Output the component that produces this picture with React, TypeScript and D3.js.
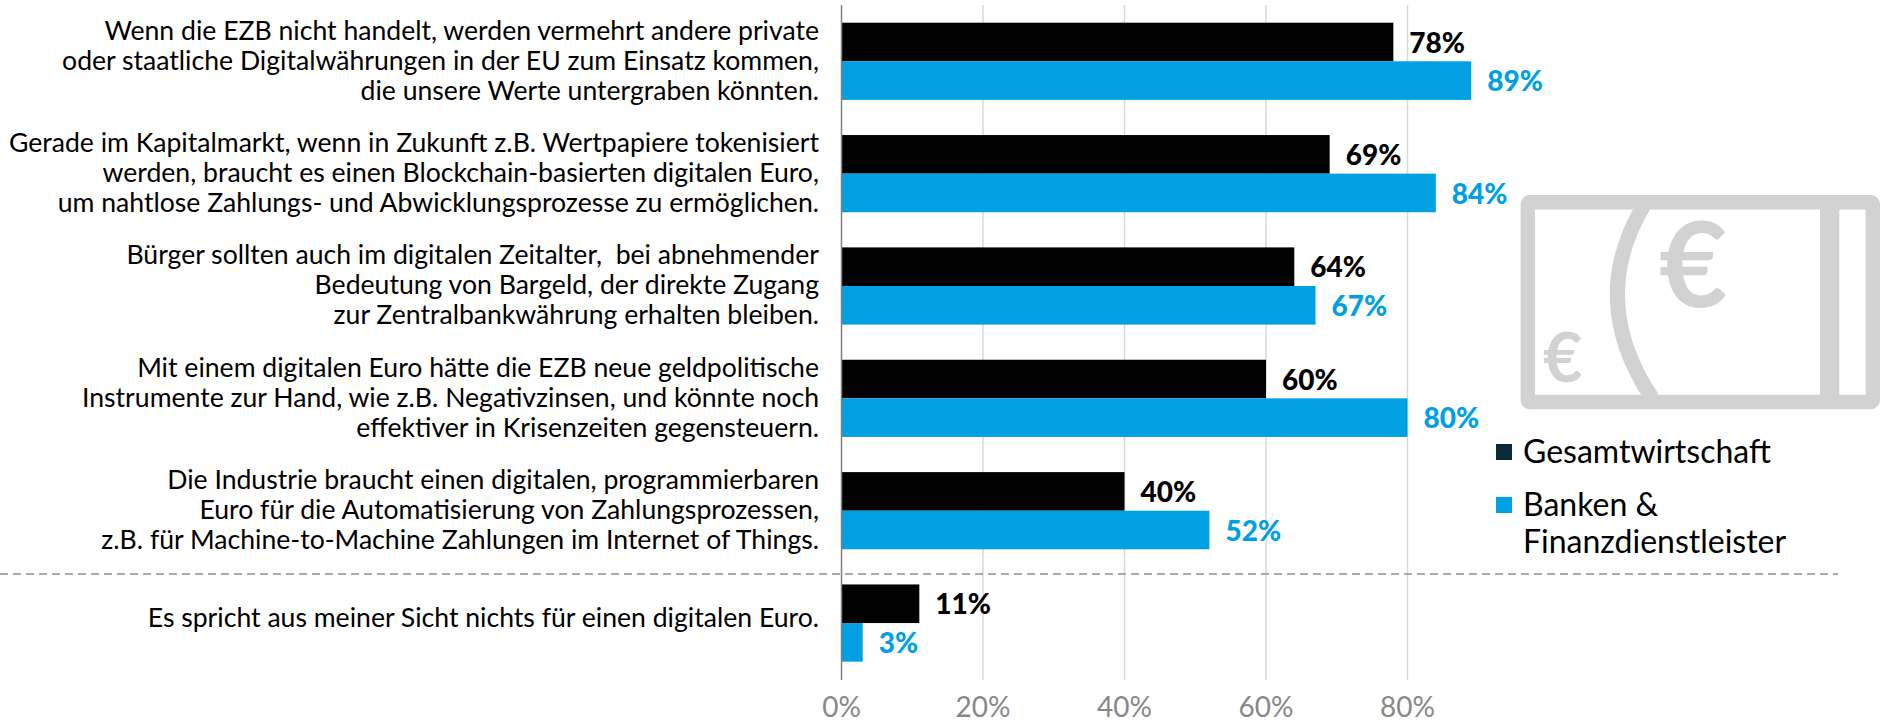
import React from "react";
import * as d3 from "d3";

const statementLines: string[][] = [
  ["Wenn die EZB nicht handelt, werden vermehrt andere private", "oder staatliche Digitalwährungen in der EU zum Einsatz kommen,", "die unsere Werte untergraben könnten."],
  ["Gerade im Kapitalmarkt, wenn in Zukunft z.B. Wertpapiere tokenisiert", "werden, braucht es einen Blockchain-basierten digitalen Euro,", "um nahtlose Zahlungs- und Abwicklungsprozesse zu ermöglichen."],
  ["Bürger sollten auch im digitalen Zeitalter,  bei abnehmender", "Bedeutung von Bargeld, der direkte Zugang", "zur Zentralbankwährung erhalten bleiben."],
  ["Mit einem digitalen Euro hätte die EZB neue geldpolitische", "Instrumente zur Hand, wie z.B. Negativzinsen, und könnte noch", "effektiver in Krisenzeiten gegensteuern."],
  ["Die Industrie braucht einen digitalen, programmierbaren", "Euro für die Automatisierung von Zahlungsprozessen,", "z.B. für Machine-to-Machine Zahlungen im Internet of Things."],
  ["Es spricht aus meiner Sicht nichts für einen digitalen Euro."],
];
const gesamt = [78, 69, 64, 60, 40, 11];
const banken = [89, 84, 67, 80, 52, 3];
const ticks = [0, 20, 40, 60, 80];
const legendLabels = ["Gesamtwirtschaft", "Banken &", "Finanzdienstleister"];

const BLUE = "#00a0e3";
const ICON = "#d2d2d2";
const FONT = "Lato, sans-serif";
const x = d3.scaleLinear().domain([0, 80]).range([841.5, 1407.5]);

export default function App() {
  const groupY = (i: number) => 22.7 + i * 112.35;
  const barH = 38.6;
  return (
    <svg width={1883} height={723} style={{ position: "absolute", left: 0, top: 0, background: "#fff" }} fontFamily={FONT}>
      {ticks.slice(1).map((t) => (
        <line key={t} x1={x(t)} x2={x(t)} y1={5} y2={680} stroke="#d9d9d9" strokeWidth={1.5} />
      ))}
      <g>
        <rect x={1527.8} y={202.2} width={345} height={199.8} fill="none" stroke={ICON} strokeWidth={14.4} rx={2} strokeLinejoin="round" />
        <rect x={1820} y={205} width={19.3} height={192} fill={ICON} />
        <path d="M1644 205 Q1587 300 1652 398" fill="none" stroke={ICON} strokeWidth={15} />
        <text x={1659} y={307} fontSize={118} fill={ICON} fontWeight={700}>€</text>
        <text x={1543} y={382} fontSize={68} fill={ICON} fontWeight={700}>€</text>
      </g>
      <line x1={0} x2={1838} y1={574} y2={574} stroke="#aaaaaa" strokeWidth={2} strokeDasharray="8 5" />
      {gesamt.map((v, i) => (
        <g key={i}>
          <rect x={x(0)} y={groupY(i)} width={x(v) - x(0)} height={barH} fill="#000" />
          <rect x={x(0)} y={groupY(i) + barH} width={x(banken[i]) - x(0)} height={barH} fill={BLUE} />
          <text x={x(v) + 16} y={groupY(i) + 30} fontSize={28} fontWeight={900} fill="#000">{v}%</text>
          <text x={x(banken[i]) + 16} y={groupY(i) + barH + 30} fontSize={28} fontWeight={900} fill={BLUE}>{banken[i]}%</text>
        </g>
      ))}
      <line x1={x(0)} x2={x(0)} y1={5} y2={680} stroke="#808080" strokeWidth={1.5} />
      {statementLines.map((lines, i) => {
        const base = lines.length === 3 ? 39.5 + i * 112.35 : 626.5;
        return lines.map((l, j) => (
          <text key={j} x={819} y={base + j * 30} textAnchor="end" fontSize={26.6} fill="#000" style={{ whiteSpace: "pre" }}>{l}</text>
        ));
      })}
      {ticks.map((t) => (
        <text key={t} x={x(t)} y={716.5} textAnchor="middle" fontSize={28} fill="#888">{t}%</text>
      ))}
      <rect x={1496} y={444} width={16} height={16} fill="#0a2a36" />
      <rect x={1496} y={497} width={16} height={16} fill={BLUE} />
      <text x={1523} y={462.7} fontSize={32} fill="#000">{legendLabels[0]}</text>
      <text x={1523} y={515.7} fontSize={32} fill="#000">{legendLabels[1]}</text>
      <text x={1523} y={553} fontSize={32} fill="#000">{legendLabels[2]}</text>
    </svg>
  );
}
